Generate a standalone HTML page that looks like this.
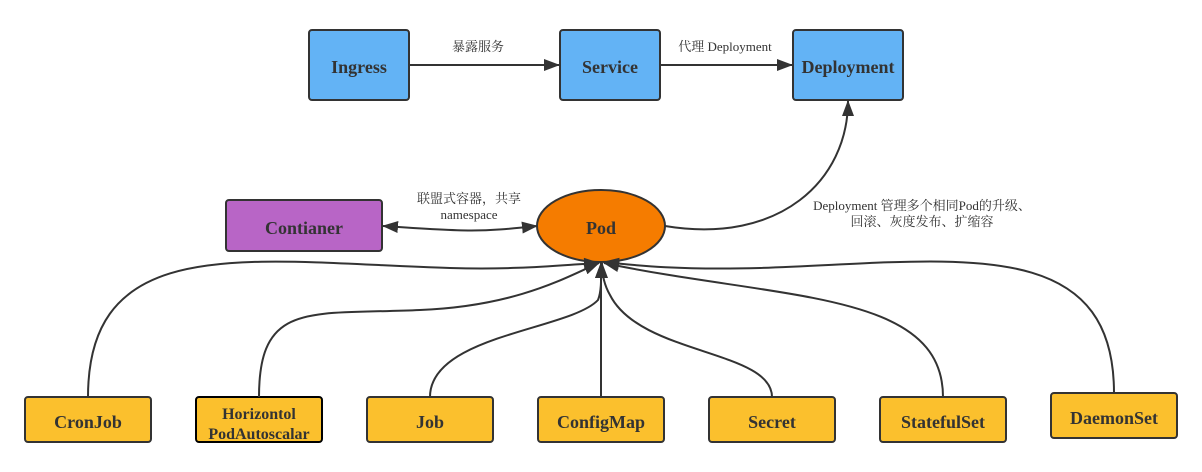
<!DOCTYPE html>
<html><head><meta charset="utf-8"><style>
body{margin:0;background:#fff;}
svg text{font-family:"Liberation Serif","Noto Serif CJK SC",serif;}
.b{font-weight:bold;font-size:18px;fill:#333;text-anchor:middle;}
.s{font-size:13px;fill:#333;text-anchor:middle;}
.l{fill:none;stroke:#333;stroke-width:2;}
</style></head><body>
<svg width="1202" height="467" xmlns="http://www.w3.org/2000/svg">
<defs>
<marker id="a2" markerWidth="16" markerHeight="12" refX="15" refY="6" orient="auto-start-reverse" markerUnits="userSpaceOnUse"><path d="M0,0 L16,6 L0,12 z" fill="#333"/></marker></defs>
<g fill="#63b3f5" stroke="#333" stroke-width="2">
<rect x="309" y="30" width="100" height="70" rx="3"/>
<rect x="560" y="30" width="100" height="70" rx="3"/>
<rect x="793" y="30" width="110" height="70" rx="3"/>
</g>
<rect x="226" y="200" width="156" height="51" rx="3" fill="#b865c6" stroke="#333" stroke-width="2"/>
<ellipse cx="601" cy="226" rx="64" ry="36" fill="#f57c00" stroke="#333" stroke-width="2"/>
<g fill="#fbc02d" stroke="#333" stroke-width="2">
<rect x="25" y="397" width="126" height="45" rx="3"/>
<rect x="196" y="397" width="126" height="45" rx="3" stroke="#000"/>
<rect x="367" y="397" width="126" height="45" rx="3"/>
<rect x="538" y="397" width="126" height="45" rx="3"/>
<rect x="709" y="397" width="126" height="45" rx="3"/>
<rect x="880" y="397" width="126" height="45" rx="3"/>
<rect x="1051" y="393" width="126" height="45" rx="3"/>
</g>
<path class="l" d="M409,65 L559,65" marker-end="url(#a2)"/>
<path class="l" d="M660,65 L792,65" marker-end="url(#a2)"/>
<path class="l" d="M665,226 C780,245 848,180 848,101" marker-end="url(#a2)"/>
<path class="l" d="M383,226 C470,232 480,232 537,226" marker-start="url(#a2)" marker-end="url(#a2)"/>
<path class="l" d="M88,397 C88,230 250,262 450,268 C520,270 560,265 599,263" marker-end="url(#a2)"/>
<path class="l" d="M259,397 C259,300 310,315 420,310 C520,306 570,275 599,263" marker-end="url(#a2)"/>
<path class="l" d="M430,397 C430,335 570,330 598,300 C602,290 601,275 601,263" marker-end="url(#a2)"/>
<path class="l" d="M601,397 L601,263" marker-end="url(#a2)"/>
<path class="l" d="M772,397 C772,350 640,355 610,295 C603,283 602,272 602,263" marker-end="url(#a2)"/>
<path class="l" d="M943,397 C943,290 780,300 604,263" marker-end="url(#a2)"/>
<path class="l" d="M1114,393 C1114,230 950,262 760,268 C680,270 640,266 604,262" marker-end="url(#a2)"/>
<text class="b" x="359" y="73">Ingress</text>
<text class="b" x="610" y="73">Service</text>
<text class="b" x="848" y="73">Deployment</text>
<text class="b" x="304" y="234">Contianer</text>
<text class="b" x="601" y="234">Pod</text>
<text class="b" x="88" y="428">CronJob</text>
<text class="b" x="259" y="419" style="font-size:16px">Horizontol</text>
<text class="b" x="259" y="439" style="font-size:16px">PodAutoscalar</text>
<text class="b" x="430" y="428">Job</text>
<text class="b" x="601" y="428">ConfigMap</text>
<text class="b" x="772" y="428">Secret</text>
<text class="b" x="943" y="428">StatefulSet</text>
<text class="b" x="1114" y="424">DaemonSet</text>
<text class="s" x="478" y="51">暴露服务</text>
<text class="s" x="725" y="51">代理 Deployment</text>
<text class="s" x="469" y="203">联盟式容器，共享</text>
<text class="s" x="469" y="219">namespace</text>
<text class="s" x="922" y="210">Deployment 管理多个相同Pod的升级、</text>
<text class="s" x="922" y="226">回滚、灰度发布、扩缩容</text>
</svg>
</body></html>
